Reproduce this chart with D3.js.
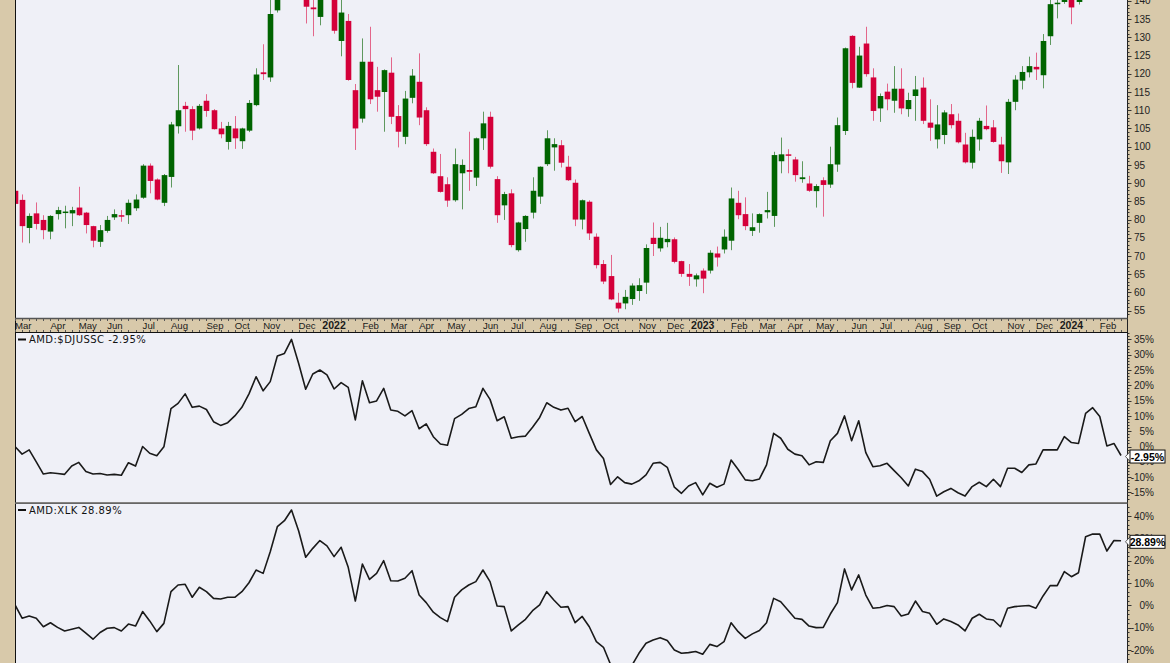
<!DOCTYPE html>
<html><head><meta charset="utf-8">
<script src="https://cdn.jsdelivr.net/npm/d3@7"></script>
<style>
html,body{margin:0;padding:0;background:#d8c9aa;}
svg{display:block;}
</style></head><body>
<svg id="chart" width="1170" height="663"></svg>
<script>
// ---- Weekly AMD candles (bar index 0..156, late Feb 2021 .. Feb 2024) ----
const opens = [87.9,85.4,77.7,81.7,79.9,76.7,81.5,82.0,81.7,83.3,81.9,78.2,73.9,76.9,80.6,81.2,81.2,83.1,86.0,94.8,
91.0,84.6,91.7,105.6,111.2,110.3,105.0,112.6,110.0,105.0,101.3,105.0,101.5,104.4,111.4,120.4,119.0,137.4,148.5,151.0,
158.0,145.0,138.2,135.6,145.0,147.0,129.0,134.5,115.5,107.7,123.3,115.5,115.0,120.3,108.4,102.7,113.4,117.8,110.0,98.6,
91.9,89.7,85.3,92.7,93.6,91.5,102.3,108.2,91.1,83.9,87.2,71.6,77.4,81.9,86.3,95.2,99.8,100.4,94.5,90.1,
80.0,84.9,75.3,67.8,64.5,57.2,57.0,58.2,60.4,62.7,75.0,72.1,73.8,74.6,68.6,65.1,63.6,66.0,66.0,70.7,
71.8,74.2,84.6,81.5,76.9,79.1,82.0,81.0,96.0,97.9,96.5,91.1,89.9,87.8,90.8,89.6,95.1,104.3,130.4,116.2,
128.3,119.0,110.5,115.1,112.6,115.9,110.3,113.9,116.2,106.6,102.0,103.2,108.9,107.1,100.6,95.6,102.0,105.7,105.3,100.6,
95.7,112.3,118.1,120.4,121.9,119.6,130.3,139.1,139.7,144.0,139.7,148.0,175.0,178.0,171.0,172.5,175.0];
const highs = [89.0,86.9,81.7,84.7,81.2,81.2,83.5,83.8,83.5,89.0,82.1,78.3,78.5,81.0,82.8,82.6,85.5,86.9,95.2,95.4,
91.3,92.5,106.8,122.4,112.3,111.1,111.7,114.4,110.3,106.8,106.8,108.4,105.2,112.8,121.5,128.1,142.0,151.0,155.0,161.0,
164.5,150.0,143.0,148.0,151.0,150.0,141.0,136.4,117.2,129.7,132.9,121.9,121.2,124.5,111.4,115.3,121.3,125.6,110.8,99.5,
98.0,91.6,99.5,96.5,104.1,102.5,109.6,109.6,91.9,87.6,88.3,79.4,81.2,91.6,94.6,104.5,102.3,101.8,97.5,91.0,
85.5,85.3,76.2,68.9,70.3,59.9,60.7,62.5,63.9,73.2,79.2,78.0,79.1,75.1,68.7,67.8,65.2,66.6,71.6,72.6,
77.3,88.8,87.9,86.1,81.7,81.7,87.6,98.6,102.5,99.3,97.2,96.0,92.0,89.7,91.6,100.0,108.0,127.2,130.6,127.4,
132.9,121.5,114.6,117.3,122.1,121.5,114.8,119.4,119.0,113.0,111.4,110.0,111.7,109.1,103.8,104.7,107.9,111.3,107.3,102.7,
113.1,119.6,122.1,124.7,125.8,130.9,142.0,141.5,148.0,145.5,151.0,177.0,184.0,180.0,178.0,183.0,181.5];
const lows = [83.5,73.7,73.5,77.3,74.6,74.6,80.0,77.6,78.2,81.0,76.2,72.4,72.5,76.4,79.9,79.4,78.8,82.4,85.7,87.2,
85.3,83.7,88.8,103.6,104.1,101.8,104.7,108.2,104.7,102.3,99.2,99.4,99.4,104.0,111.1,118.3,117.8,136.8,144.0,146.0,
142.0,133.8,130.3,133.3,141.5,131.0,124.8,118.1,99.1,106.6,111.7,109.6,104.1,106.2,99.8,100.7,111.9,105.9,100.2,92.5,
87.4,83.5,84.9,82.8,87.9,89.2,99.1,94.0,79.1,79.9,72.4,71.2,73.9,80.3,84.3,94.7,93.4,94.3,90.6,78.2,
77.3,74.4,66.6,62.3,57.9,54.5,55.4,56.6,57.7,59.6,70.0,71.2,72.4,68.0,64.3,61.8,61.6,59.8,65.2,67.1,
70.7,71.6,80.1,77.1,75.5,76.4,80.3,78.0,92.7,92.7,90.4,90.1,87.6,83.3,80.8,88.7,93.1,103.2,116.0,116.1,
119.2,107.1,106.8,110.0,109.3,108.9,108.2,107.1,106.2,101.6,99.5,100.7,105.0,100.9,95.4,94.0,98.9,104.5,101.1,92.8,
92.5,110.0,115.7,119.0,118.3,116.0,127.9,135.2,139.2,133.6,139.0,145.0,172.0,161.0,166.0,168.0,172.0];
const closes = [84.3,78.2,81.0,78.8,77.1,81.0,82.6,82.2,82.6,81.2,78.5,74.2,77.1,79.9,81.5,81.0,84.6,85.5,94.8,90.6,
85.5,92.2,106.1,110.0,110.3,104.4,111.2,109.8,104.8,103.4,105.7,102.3,105.0,112.0,119.8,119.9,136.4,148.5,151.0,157.0,
145.0,138.4,137.7,145.0,147.0,131.8,136.8,118.3,105.0,123.3,113.0,113.7,121.0,108.2,104.1,113.2,119.5,108.0,100.7,92.7,
87.6,85.2,95.2,95.0,93.1,102.3,106.4,94.5,81.2,87.0,73.0,79.2,81.0,87.9,94.5,102.3,100.7,95.6,90.8,80.0,
85.3,76.2,67.5,63.0,58.1,55.6,58.8,61.9,62.0,72.2,73.3,75.0,74.7,68.4,65.1,64.3,64.7,63.8,70.9,69.6,
75.3,85.8,81.2,78.2,77.9,81.5,82.6,97.7,97.9,97.5,92.2,91.6,87.9,89.2,89.5,95.2,105.9,127.0,117.5,125.0,
119.9,109.8,113.9,113.0,115.9,110.5,112.8,115.7,107.1,105.2,106.1,109.4,105.9,101.2,95.7,102.7,107.1,104.8,101.3,96.0,
112.3,118.4,120.5,122.1,121.2,129.0,139.1,139.5,147.4,138.2,146.6,174.2,177.3,170.5,171.8,173.9,176.5];

// ---- Relative strength series (% change) ----
const rsSector = [0.0,-2.5,-1.1,-5.0,-9.0,-8.6,-8.8,-9.1,-6.4,-5.2,-8.2,-9.0,-8.8,-9.3,-9.1,-9.4,-5.3,-6.4,0.0,-2.2,
-3.0,-0.1,12.4,14.1,17.2,12.8,13.2,12.1,8.1,6.9,7.8,10.0,12.8,17.2,22.8,18.2,21.2,29.6,30.4,35.0,
27.2,18.7,23.7,25.0,23.4,18.8,20.9,19.3,8.7,21.5,14.3,14.9,19.0,11.9,11.5,10.0,11.7,5.8,7.4,3.2,
0.8,0.4,9.1,10.5,12.4,13.0,19.0,15.4,8.4,9.7,2.7,3.2,3.4,6.3,9.5,14.3,12.8,11.9,12.5,8.1,
9.8,4.3,-1.1,-3.9,-12.4,-9.9,-11.8,-12.3,-11.2,-9.3,-5.5,-5.2,-6.8,-13.3,-15.3,-12.9,-11.8,-15.8,-12.0,-13.3,
-12.3,-4.4,-7.5,-10.9,-11.2,-10.6,-6.0,4.3,2.7,-0.9,-2.5,-3.0,-6.0,-5.0,-5.2,1.9,4.3,10.0,1.9,8.4,
-2.0,-6.6,-6.3,-5.5,-7.9,-10.2,-12.9,-7.4,-8.2,-10.7,-16.2,-14.8,-13.7,-15.1,-16.2,-13.1,-11.7,-13.1,-10.7,-13.1,
-7.1,-7.1,-8.5,-6.0,-5.7,-1.1,-1.1,-1.1,3.2,1.3,1.0,10.8,12.7,9.8,0.2,1.0,-2.95];
const rsXLK = [0.2,-5.8,-4.8,-5.8,-9.6,-7.8,-9.9,-11.5,-10.7,-9.9,-12.5,-15.2,-12.2,-10.3,-10.0,-11.5,-8.4,-9.3,-2.8,-7.0,
-11.8,-8.1,6.1,9.1,9.4,3.6,8.1,6.1,3.1,2.8,3.6,3.6,6.1,10.1,15.8,14.3,24.0,35.2,37.9,42.7,
33.4,21.5,25.5,29.0,26.6,21.8,26.0,17.0,1.9,18.5,11.6,14.3,20.0,11.0,10.9,12.1,15.5,4.6,1.2,-3.1,
-5.5,-7.3,3.6,6.9,9.1,10.6,15.8,10.6,-0.3,-0.6,-11.5,-8.8,-6.3,-2.4,0.2,6.1,2.4,-0.9,-0.6,-7.8,
-5.0,-9.6,-16.3,-18.8,-26.5,-30.0,-29.0,-27.0,-21.5,-17.0,-15.5,-14.5,-15.8,-20.0,-21.5,-21.2,-20.7,-21.9,-17.5,-18.5,
-16.3,-7.8,-11.8,-14.8,-12.8,-11.3,-7.8,3.1,1.6,-2.1,-5.8,-6.3,-9.3,-10.0,-9.9,-3.9,1.2,16.3,6.9,13.6,
4.6,-1.3,-1.0,-0.1,-0.6,-4.8,-3.9,1.9,-2.8,-3.6,-8.5,-6.1,-7.3,-8.8,-11.5,-5.8,-4.0,-6.1,-6.6,-9.6,
-1.3,-0.6,-0.3,-0.1,-1.3,4.2,8.8,8.8,15.1,12.8,14.6,30.7,31.9,31.9,24.3,29.0,28.89];

// ---- Tick labels ----
const priceTicks = [55,60,65,70,75,80,85,90,95,100,105,110,115,120,125,130,135,140];
const sectorTicks = [-15,-10,-5,0,5,10,15,20,25,30,35];
const xlkTicks = [-20,-10,0,10,20,30,40];
const dateLabels = ["Mar","Apr","May","Jun","Jul","Aug","Sep","Oct","Nov","Dec","2022","Feb","Mar","Apr","May","Jun","Jul","Aug","Sep","Oct","Nov","Dec","2023","Feb","Mar","Apr","May","Jun","Jul","Aug","Sep","Oct","Nov","Dec","2024","Feb"];
const dateLabelBars = [0,5,9,13,18,22,27,31,35,40,45,49,53,57,61,66,70,74,79,83,88,92,97,101,105,109,113,118,122,127,131,135,140,144,149,153];
const sectorName = "AMD:$DJUSSC", xlkName = "AMD:XLK";

// ---- Layout ----
const svg = d3.select("#chart");
const TAN = "#d8c9aa", BG = "#eff0f7";
const L = 15, R = 1127.5;
const p1 = {top:0, bottom:318};
const p2 = {top:333, bottom:502.5};
const p3 = {top:504, bottom:663};
const n = closes.length;
const idx = d3.range(n);

const x = d3.scaleLinear().domain([0, n-1]).range([15, 15 + (n-1)*7.09]);
const yP = d3.scaleLinear().domain([55,140]).range([310.7, 0.88]);
const yS = d3.scaleLinear().domain([0,35]).range([446.5, 339.4]);
const yX = d3.scaleLinear().domain([0,40]).range([605.3, 516]);

svg.append("rect").attr("width",1170).attr("height",663).attr("fill",TAN);
[p1,p2,p3].forEach(p=>svg.append("rect").attr("x",L).attr("y",p.top).attr("width",R-L).attr("height",p.bottom-p.top).attr("fill",BG));

const defs = svg.append("defs");
[["c1",p1],["c2",p2],["c3",p3]].forEach(([id,p])=>{
  defs.append("clipPath").attr("id",id).append("rect").attr("x",L+1).attr("y",p.top).attr("width",R-L-1).attr("height",p.bottom-p.top);
});

// Candles
const GREEN="#006400", RED="#d4003a", GWICK="#5e985e", RWICK="#e3668a";
const cg = svg.append("g").attr("clip-path","url(#c1)");
cg.selectAll("line.wick").data(idx).join("line")
  .attr("x1",i=>Math.round(x(i))+0.5).attr("x2",i=>Math.round(x(i))+0.5)
  .attr("y1",i=>yP(highs[i])).attr("y2",i=>yP(lows[i]))
  .attr("stroke",i=>closes[i]>=opens[i]?GWICK:RWICK).attr("stroke-width",1);
cg.selectAll("rect.body").data(idx).join("rect")
  .attr("x",i=>Math.round(x(i))+0.5-2.8).attr("width",5.6)
  .attr("y",i=>yP(Math.max(opens[i],closes[i])))
  .attr("height",i=>Math.max(1.5, Math.abs(yP(opens[i])-yP(closes[i]))))
  .attr("fill",i=>closes[i]>=opens[i]?GREEN:RED);

// RS lines
function drawLine(data, ys, clip){
  svg.append("path").attr("clip-path",`url(#${clip})`).datum(data)
    .attr("d", d3.line().x((d,i)=>x(i)).y(d=>ys(d)))
    .attr("fill","none").attr("stroke","#1a1a1a").attr("stroke-width",1.6).attr("stroke-linejoin","round");
}
drawLine(rsSector, yS, "c2");
drawLine(rsXLK, yX, "c3");

// Borders
svg.append("line").attr("x1",L+0.5).attr("x2",L+0.5).attr("y1",0).attr("y2",663).attr("stroke","#111");
svg.append("line").attr("x1",R).attr("x2",R).attr("y1",0).attr("y2",663).attr("stroke","#222");
svg.append("line").attr("x1",L).attr("x2",R).attr("y1",318.5).attr("y2",318.5).attr("stroke","#555").attr("stroke-width",1.5);
svg.append("line").attr("x1",L).attr("x2",R).attr("y1",332.5).attr("y2",332.5).attr("stroke","#111");
svg.append("line").attr("x1",L).attr("x2",R).attr("y1",503.2).attr("y2",503.2).attr("stroke","#666").attr("stroke-width",1.8);

// Date band ticks and labels
const bt = svg.append("g");
bt.selectAll("line.t1").data(idx).join("line")
  .attr("x1",i=>Math.round(x(i))+0.5).attr("x2",i=>Math.round(x(i))+0.5)
  .attr("y1",319).attr("y2",321).attr("stroke","#555");
bt.selectAll("line.t2").data(idx).join("line")
  .attr("x1",i=>Math.round(x(i))+0.5).attr("x2",i=>Math.round(x(i))+0.5)
  .attr("y1",330).attr("y2",332).attr("stroke","#555");
bt.selectAll("text").data(dateLabels).join("text")
  .attr("x",(d,k)=>x(dateLabelBars[k]))
  .attr("y",329.3)
  .attr("text-anchor",d=>/^\d{4}$/.test(d)?"middle":"start")
  .attr("font-family","'Liberation Sans', Arial, sans-serif")
  .attr("font-size",d=>/^\d{4}$/.test(d)?"10.5px":"9.6px")
  .attr("font-weight",d=>/^\d{4}$/.test(d)?"bold":"normal")
  .attr("fill","#1a1a1a").text(d=>d);

// Right axes
const ax = svg.append("g").attr("font-family","'Liberation Sans', Arial, sans-serif").attr("font-size","10px").attr("fill","#222");
function minorTicks(scale, from, to, step, yTop, yBot){
  const vals = d3.range(from, to+step/2, step);
  ax.selectAll(null).data(vals).join("line")
    .attr("x1",R).attr("x2",R+2).attr("y1",v=>Math.round(scale(v))+0.5).attr("y2",v=>Math.round(scale(v))+0.5)
    .attr("stroke","#333").attr("display",v=>{const y=scale(v);return (y<yTop||y>yBot)?"none":null;});
}
minorTicks(yP, 54, 141, 1, 0, 318);
minorTicks(yS, -17, 37, 1, 333, 502);
minorTicks(yX, -26, 46, 2, 504, 663);
ax.selectAll("line.pm").data(priceTicks).join("line")
  .attr("x1",R).attr("x2",R+4).attr("y1",v=>Math.round(yP(v))+0.5).attr("y2",v=>Math.round(yP(v))+0.5).attr("stroke","#333");
ax.selectAll("text.pl").data(priceTicks).join("text")
  .attr("x",1134).attr("y",v=>yP(v)+3.6).text(v=>v);
ax.selectAll("line.sm").data(sectorTicks).join("line")
  .attr("x1",R).attr("x2",R+4).attr("y1",v=>Math.round(yS(v))+0.5).attr("y2",v=>Math.round(yS(v))+0.5).attr("stroke","#333");
ax.selectAll("text.sl").data(sectorTicks).join("text")
  .attr("x",1154).attr("text-anchor","end").attr("y",v=>yS(v)+3.6).text(v=>v+"%");
ax.selectAll("line.xm").data(xlkTicks).join("line")
  .attr("x1",R).attr("x2",R+4).attr("y1",v=>Math.round(yX(v))+0.5).attr("y2",v=>Math.round(yX(v))+0.5).attr("stroke","#333");
ax.selectAll("text.xl").data(xlkTicks).join("text")
  .attr("x",1154).attr("text-anchor","end").attr("y",v=>yX(v)+3.6).text(v=>v+"%");

// Last value tags
function valueTag(val, ys){
  const yc = ys(val)+1;
  const g = svg.append("g");
  g.append("path").attr("d",`M${R-2},${yc} L${R+3},${yc-5.5} L${R+3},${yc+5.5} Z`).attr("fill","#fff").attr("stroke","#333").attr("stroke-width",0.8);
  g.append("rect").attr("x",R+2.5).attr("y",yc-6.5).attr("width",35).attr("height",13).attr("fill","#fff").attr("stroke","#111").attr("stroke-width",1);
  g.append("text").attr("x",R+20).attr("y",yc+4).attr("text-anchor","middle")
    .attr("font-family","'Liberation Sans', Arial, sans-serif").attr("font-size","10.5px").attr("font-weight","bold").attr("fill","#000")
    .text(val.toFixed(2)+"%");
}
valueTag(rsSector[n-1], yS);
valueTag(rsXLK[n-1], yX);

// Legends
function legend(label, val, y){
  svg.append("line").attr("x1",18).attr("x2",26).attr("y1",y).attr("y2",y).attr("stroke","#111").attr("stroke-width",2);
  svg.append("text").attr("x",29).attr("y",y+3.6)
    .attr("font-family","'DejaVu Sans', Verdana, sans-serif").attr("font-size","10px").attr("letter-spacing","0.45px").attr("fill","#111")
    .text(label+" "+val.toFixed(2)+"%");
}
legend(sectorName, rsSector[n-1], 339.5);
legend(xlkName, rsXLK[n-1], 510);
</script>
</body></html>
